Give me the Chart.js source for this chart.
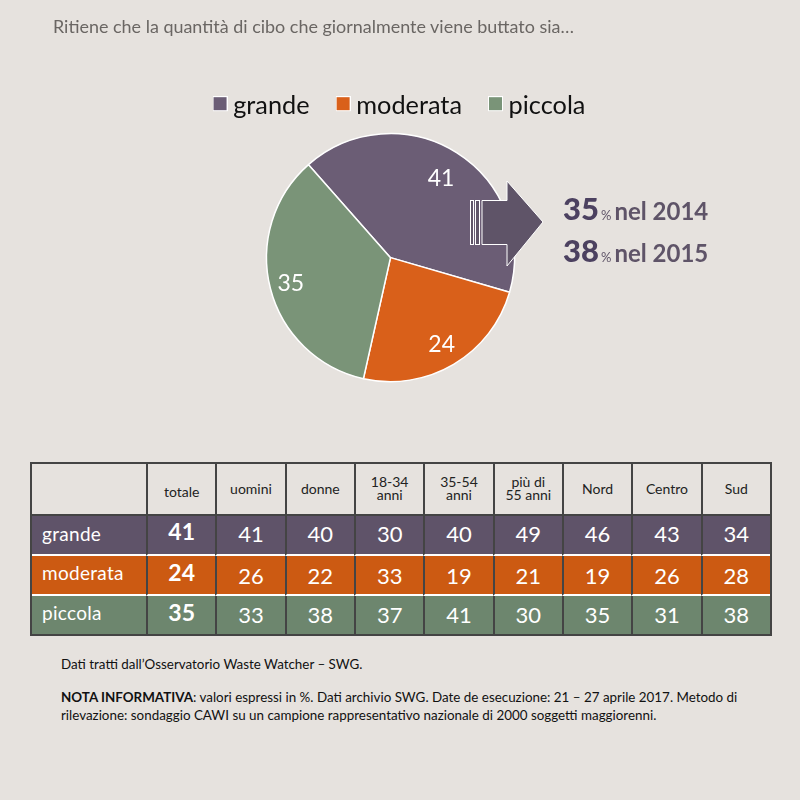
<!DOCTYPE html>
<html lang="it">
<head>
<meta charset="utf-8">
<title>Cibo buttato</title>
<script src="https://cdn.jsdelivr.net/npm/chart.js@4/dist/chart.umd.min.js"></script>
<style>
html, body { margin: 0; padding: 0; background: #e6e2de; }
body { width: 800px; height: 800px; position: relative; overflow: hidden; font-family: Lato, "Open Sans", sans-serif; color: #111; }
#pieChart { position: absolute; left: 0; top: 0; }
#arrow { position: absolute; left: 0; top: 0; }
.abs { position: absolute; white-space: nowrap; }
#title { left: 53px; top: 15px; font-size: 17.95px; color: #6a6663; }
.trend { left: 563px; font-weight: bold; color: #5f5468; font-size: 24px; line-height: 40px; }
.trend b { font-size: 31px; color: #4c4160; }
.trend small { font-size: 13px; font-weight: normal; margin: 0 3px 0 2px; }
#dataTable { position: absolute; left: 30px; top: 462px; width: 742px; border-collapse: separate; border-spacing: 0; table-layout: fixed; border: 2px solid #444; box-sizing: border-box; }
#dataTable th, #dataTable td { padding: 0; text-align: center; border-left: 2px solid #444; box-sizing: border-box; }
#dataTable th:first-child, #dataTable td:first-child { border-left: 0; }
#dataTable thead th { height: 52px; padding-bottom: 2px; font-weight: normal; font-size: 14px; line-height: 13px; color: #222; border-bottom: 2px solid #444; }
#dataTable thead th:nth-child(2) { padding-bottom: 0; padding-top: 4px; }
#dataTable tbody td { height: 40px; color: #fff; font-size: 22px; border-bottom: 2px solid #fff; }
#dataTable tbody tr:nth-child(1) td { padding-bottom: 4px; }
#dataTable tbody tr:nth-child(3) td { padding-bottom: 2px; border-bottom: 0; height: 38px; }
#dataTable tbody td:first-child { text-align: left; padding-left: 10px; font-size: 19px; letter-spacing: 0.3px; }
#dataTable tbody tr:nth-child(2) td:first-child, #dataTable tbody tr:nth-child(3) td:first-child { padding-bottom: 6px; }
#dataTable tbody td:nth-child(2) { font-weight: bold; font-size: 23px; }
#dataTable tbody tr:nth-child(1) td:nth-child(2) { padding-bottom: 8px; }
#dataTable tbody tr:nth-child(2) td:nth-child(2), #dataTable tbody tr:nth-child(3) td:nth-child(2) { padding-bottom: 6px; }
.note { left: 61px; font-size: 13.4px; color: #111; line-height: 18px; }
</style>
</head>
<body>
<canvas id="pieChart" width="800" height="440"></canvas>
<svg id="arrow" width="800" height="440">
  <g fill="#5f5468" stroke="#fff" stroke-width="1">
    <rect x="470.5" y="200.5" width="3" height="44"></rect>
    <rect x="475.5" y="200.5" width="4" height="44"></rect>
    <polygon points="482,200.5 507,200.5 507,181 543,222 507,266 507,244.5 482,244.5"></polygon>
  </g>
</svg>
<div id="title" class="abs">Ritiene che la quantità di cibo che giornalmente viene buttato sia…</div>
<div class="abs trend" style="top:188px"><b>35</b><small>%</small>nel 2014</div>
<div class="abs trend" style="top:230px"><b>38</b><small>%</small>nel 2015</div>
<table id="dataTable"></table>
<div class="abs note" style="top:655px">Dati tratti dall’Osservatorio Waste Watcher – SWG.</div>
<div class="abs note" style="top:688px"><b>NOTA INFORMATIVA</b>: valori espressi in %. Dati archivio SWG. Date de esecuzione: 21 – 27 aprile 2017. Metodo di<br>rilevazione: sondaggio CAWI su un campione rappresentativo nazionale di 2000 soggetti maggiorenni.</div>
<script>
const answers = ["grande", "moderata", "piccola"];
const totals = [41, 24, 35];
const pieColors = ["#6b5d75", "#d9601a", "#7a9478"];
const rowColors = ["#5f5369", "#cc5a12", "#6d866e"];

const columns = ["totale", "uomini", "donne", "18-34<br>anni", "35-54<br>anni", "più di<br>55 anni", "Nord", "Centro", "Sud"];
const grandeRow = [41, 41, 40, 30, 40, 49, 46, 43, 34];
const moderataRow = [24, 26, 22, 33, 19, 21, 19, 26, 28];
const piccolaRow = [35, 33, 38, 37, 41, 30, 35, 31, 38];
const tableRows = [grandeRow, moderataRow, piccolaRow];

function buildTable() {
    const table = document.getElementById("dataTable");
    let html = '<colgroup><col style="width:114px">';
    for (let i = 0; i < columns.length; i++) html += '<col>';
    html += '</colgroup><thead><tr><th></th>';
    columns.forEach((c) => { html += "<th>" + c + "</th>"; });
    html += "</tr></thead><tbody>";
    tableRows.forEach((row, r) => {
        html += '<tr><td style="background:' + rowColors[r] + '">' + answers[r] + "</td>";
        row.forEach((v) => { html += '<td style="background:' + rowColors[r] + '">' + v + "</td>"; });
        html += "</tr>";
    });
    table.innerHTML = html + "</tbody>";
}

// legend swatch with a white edge, sits a little above the text centre
function makeSwatch(color) {
    const c = document.createElement("canvas");
    c.width = 15;
    c.height = 19;
    const g = c.getContext("2d");
    g.fillStyle = "#fff";
    g.fillRect(0, 0, 15, 15);
    g.fillStyle = color;
    g.fillRect(1, 1, 13, 13);
    return c;
}
const swatches = pieColors.map(makeSwatch);

// numbers inside the slices, further out than the default centre
const labelDistance = [0.76, 0.81, 0.83];
const sliceLabels = {
    id: "sliceLabels",
    afterDatasetsDraw(chart) {
        const ctx = chart.ctx;
        ctx.save();
        ctx.fillStyle = "#fff";
        ctx.font = '23px Lato, sans-serif';
        ctx.textAlign = "center";
        ctx.textBaseline = "middle";
        chart.getDatasetMeta(0).data.forEach((arc, i) => {
            const mid = (arc.startAngle + arc.endAngle) / 2;
            const r = arc.outerRadius * labelDistance[i];
            ctx.fillText(totals[i], arc.x + Math.cos(mid) * r, arc.y + Math.sin(mid) * r);
        });
        ctx.restore();
    },
};

// legend is centred on the page, the pie is not
const legendShift = {
    id: "legendShift",
    afterLayout(chart) {
        chart.legend.left += 12;
        chart.legend.right += 12;
    },
};

buildTable();

new Chart(document.getElementById("pieChart").getContext("2d"), {
    type: "pie",
    data: {
        labels: answers,
        datasets: [{
            data: totals,
            backgroundColor: pieColors,
            borderColor: "#fff",
            borderWidth: 1.5,
            radius: 124,
            rotation: -41.4,
        }],
    },
    options: {
        responsive: false,
        animation: false,
        devicePixelRatio: 1,
        layout: { padding: { top: 60, bottom: 53, right: 19 } },
        plugins: {
            tooltip: { enabled: false },
            legend: {
                position: "top",
                labels: {
                    color: "#111",
                    font: { size: 25.3, family: "Lato, sans-serif" },
                    usePointStyle: true,
                    boxWidth: 1,
                    padding: 33,
                    generateLabels(chart) {
                        return Chart.overrides.pie.plugins.legend.labels.generateLabels(chart).map((item, i) => {
                            item.pointStyle = swatches[i];
                            return item;
                        });
                    },
                },
            },
        },
    },
    plugins: [sliceLabels, legendShift],
});
</script>
</body>
</html>
